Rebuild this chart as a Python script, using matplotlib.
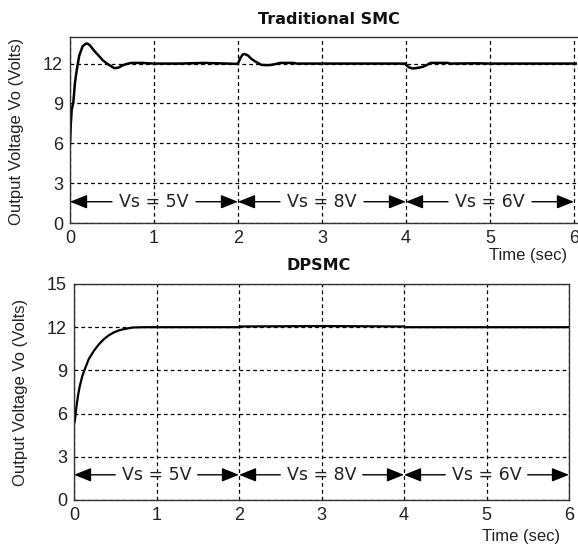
import matplotlib
matplotlib.use("Agg")
import matplotlib.pyplot as plt

plt.rcParams['font.family'] = ['Liberation Sans', 'DejaVu Sans']

# Traditional SMC response
t_smc = [0.0, 0.01, 0.02, 0.04, 0.06, 0.08, 0.11, 0.15, 0.19, 0.21, 0.24, 0.29, 0.34, 0.39,
         0.44, 0.49, 0.53, 0.58, 0.63, 0.68, 0.73, 0.85, 1.0, 1.3, 1.6, 1.98,
         2.0, 2.03, 2.06, 2.08, 2.12, 2.16, 2.22, 2.28, 2.34, 2.40, 2.45, 2.50, 2.66, 2.7,
         3.0, 3.5, 3.99, 4.0, 4.04, 4.08, 4.11, 4.16, 4.21, 4.25, 4.29, 4.5, 4.52,
         4.85, 5.0, 5.5, 6.05]
v_smc = [6.0, 7.5, 8.5, 9.1, 10.6, 11.5, 12.6, 13.3, 13.5, 13.5, 13.35, 12.95, 12.6, 12.25,
         12.0, 11.8, 11.65, 11.7, 11.88, 11.98, 12.05, 12.05, 12.0, 12.0, 12.05, 11.98,
         12.0, 12.45, 12.7, 12.72, 12.6, 12.35, 12.1, 11.9, 11.88, 11.9, 11.97, 12.05, 12.05, 12.0,
         12.0, 12.0, 12.0, 11.9, 11.7, 11.63, 11.65, 11.7, 11.78, 11.9, 12.05, 12.05, 12.0,
         12.02, 12.0, 12.0, 12.0]

# DPSMC response
t_dp = [0.0, 0.01, 0.03, 0.05, 0.07, 0.10, 0.13, 0.18, 0.24, 0.30, 0.36, 0.42, 0.48, 0.54,
        0.60, 0.66, 0.72, 0.85, 1.0, 2.0, 2.01, 3.0, 4.0, 4.01, 6.0]
v_dp = [5.3, 5.46, 6.5, 7.3, 7.9, 8.6, 9.07, 9.8, 10.35, 10.8, 11.16, 11.43, 11.63, 11.77,
        11.86, 11.93, 11.98, 12.0, 12.0, 12.0, 12.05, 12.08, 12.05, 12.0, 12.0]

vs_labels = ['Vs = 5V', 'Vs = 8V', 'Vs = 6V']
vs_bounds = [0, 2, 4, 6]

fig = plt.figure(figsize=(5.78, 5.45), dpi=100)
ax1 = fig.add_axes([70/578, 1-223/545, 507/578, 186/545])
ax2 = fig.add_axes([74/578, 1-500/545, 495/578, 216/545])

def style(ax, ylim, yticks, xlim):
    ax.set_xlim(*xlim)
    ax.set_ylim(*ylim)
    ax.set_yticks(yticks)
    ax.set_xticks([0, 1, 2, 3, 4, 5, 6])
    ax.grid(True, color='black', linestyle=(0, (3, 2.5)), linewidth=0.9)
    ax.tick_params(direction='in', length=0, labelsize=13, pad=5, labelcolor='#222222')
    for s in ax.spines.values():
        s.set_linewidth(1.0)
        s.set_color('#333333')

style(ax1, (0, 14), [0, 3, 6, 9, 12], (0, 6.036))
style(ax2, (0, 15), [0, 3, 6, 9, 12, 15], (0, 6))
ax1.spines['right'].set_visible(False)

ax1.plot(t_smc, v_smc, color='black', linewidth=1.8)
ax2.plot(t_dp, v_dp, color='black', linewidth=1.6)

def arrows(ax, y, half_gap):
    for i, lab in enumerate(vs_labels):
        a, b = vs_bounds[i], vs_bounds[i + 1]
        c = (a + b) / 2
        ax.text(c, y, lab, ha='center', va='center', fontsize=12.5, color='#222222',
                family='DejaVu Sans')
        for start, end in [(c - half_gap, a), (c + half_gap, b)]:
            ax.annotate('', xy=(end, y), xytext=(start, y),
                        arrowprops=dict(arrowstyle='-|>,head_length=0.75,head_width=0.3',
                                        mutation_scale=14, color='black', lw=1.0,
                                        shrinkA=0, shrinkB=0),
                        annotation_clip=False)

arrows(ax1, 1.6, 0.5)
arrows(ax2, 1.75, 0.5)

fig.text(329/578, 1-20/545, 'Traditional SMC', ha='center', va='center', fontsize=11.5,
         fontweight='bold', family='DejaVu Sans', color='#111111')
fig.text(319/578, 1-265/545, 'DPSMC', ha='center', va='center', fontsize=11.5,
         fontweight='bold', family='DejaVu Sans', color='#111111')
fig.text(528/578, 1-255/545, 'Time (sec)', ha='center', va='center', fontsize=12, color='#222222')
fig.text(521/578, 1-536/545, 'Time (sec)', ha='center', va='center', fontsize=12, color='#222222')
fig.text(17/578, 1-131/545, 'Output Voltage Vo (Volts)', ha='center', va='center', rotation=90,
         fontsize=12, color='#222222')
fig.text(21/578, 1-392/545, 'Output Voltage Vo (Volts)', ha='center', va='center', rotation=90,
         fontsize=12, color='#222222')

fig.savefig('out.png', dpi=100)
